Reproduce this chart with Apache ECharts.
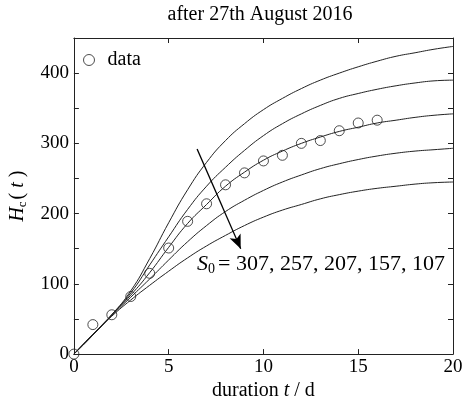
<!DOCTYPE html>
<html>
<head>
<meta charset="utf-8">
<script src="https://cdn.jsdelivr.net/npm/echarts@6/dist/echarts.min.js"></script>
<style>
html,body{margin:0;padding:0;background:#fff;}
#pic0{width:467px;height:406px;}
</style>
</head>
<body>
<div id="pic0"></div>
<script>
// 时间 t (天)
var days = [0,1,2,3,4,5,6,7,8,9,10,11,12,13,14,15,16,17,18,19,20];
// 五条模型曲线, S0 = 307, 257, 207, 157, 107
var s0List = [307, 257, 207, 157, 107];
var curve307 = [0,27,56,90,136,187,234,273,304,328,348,364,378,390,400,409,417,424,429,434,438];
var curve257 = [0,27,56,87,127,167,206,239,266,290,311,328,342,354,364,371,377,382,386,389,390];
var curve207 = [0,28,56,84,116,152,186,213,239,259,276,289,300,309,317,323,329,333,337,340,342];
var curve157 = [0,28,55,81,107,134,160,183,203,219,233,245,255,264,271,277,282,286,289,291,293];
var curve107 = [0,28,54,77,98,118,137,154,169,183,195,205,213,221,227,232,236,239,242,244,245];
// 观测数据
var dataDays = [0,1,2,3,4,5,6,7,8,9,10,11,12,13,14,15,16];
var dataHc = [0,42,56,82,115,151,189,214,241,258,275,283,300,304,318,329,333];
// 坐标轴刻度
var xTicks = [0,5,10,15,20];
var yTicks = [0,100,200,300,400];

var curves = [curve307, curve257, curve207, curve157, curve107];
var serif = 'Liberation Serif';

function pairs(xs, ys){
    var out = [];
    for (var i = 0; i < ys.length; i++) out.push([xs[i], ys[i]]);
    return out;
}
function lineOf(){ return {show: true, onZero: false, lineStyle: {color: '#222', width: 1}}; }
function tickOf(){ return {show: true, inside: true, length: 5, lineStyle: {color: '#222', width: 1}}; }

var myChart = echarts.init(document.getElementById('pic0'));

var series = [];
for (var k = 0; k < curves.length; k++) {
    series.push({
        name: 'S0=' + s0List[k],
        type: 'line',
        smooth: true,
        showSymbol: false,
        silent: true,
        lineStyle: {color: '#222', width: 1},
        data: pairs(days, curves[k])
    });
}
// 箭头
series.push({
    type: 'line',
    data: [],
    silent: true,
    markLine: {
        silent: true,
        symbol: ['none', 'arrow'],
        symbolSize: [9, 14],
        label: {show: false},
        lineStyle: {color: '#000', width: 1.3, type: 'solid'},
        data: [[{coord: [6.5, 292]}, {coord: [8.8, 150]}]]
    }
});
series.push({
    name: 'data',
    type: 'scatter',
    symbol: 'circle',
    symbolSize: 10,
    itemStyle: {color: 'rgba(255,255,255,0)', borderColor: '#222', borderWidth: 1},
    z: 5,
    data: pairs(dataDays, dataHc)
});

option = {
    animation: false,
    backgroundColor: '#fff',
    textStyle: {fontFamily: serif},
    title: {
        text: 'after 27th August 2016',
        left: 255,
        textAlign: 'center',
        top: 0,
        textStyle: {fontFamily: serif, fontSize: 20, fontWeight: 'normal', color: '#000'}
    },
    legend: {
        data: ['data'],
        left: 78,
        top: 45,
        itemWidth: 11,
        itemHeight: 11,
        itemGap: 5,
        itemStyle: {color: 'rgba(255,255,255,0)', borderColor: '#222', borderWidth: 1},
        textStyle: {fontFamily: serif, fontSize: 20, color: '#000', padding: [0, 0, 0, 8]}
    },
    grid: {left: 68, right: 14, top: 38, bottom: 45},
    xAxis: [{
        type: 'value', min: 0, max: 20, interval: 5,
        name: '{n|duration }{i|t}{n| / d}',
        nameLocation: 'middle',
        nameGap: 24,
        nameTextStyle: {
            verticalAlign: 'top',
            rich: {
                n: {fontFamily: serif, fontSize: 20, color: '#000'},
                i: {fontFamily: serif, fontSize: 20, fontStyle: 'italic', color: '#000'}
            }
        },
        axisLine: lineOf(),
        axisTick: tickOf(),
        splitLine: {show: false},
        axisLabel: {
            margin: 3, fontFamily: serif, fontSize: 19, color: '#000',
            formatter: function(v){ return xTicks.indexOf(v) >= 0 ? String(v) : ''; }
        }
    }, {
        type: 'value', min: 0, max: 20, interval: 5, position: 'top',
        axisLine: lineOf(),
        axisTick: tickOf(),
        splitLine: {show: false},
        axisLabel: {show: false}
    }],
    yAxis: [{
        type: 'value', min: 0, max: 450, interval: 50,
        name: '{i|H}{s|c}{n|( }{i|t}{n| )}',
        nameLocation: 'middle',
        nameGap: 34,
        nameRotate: 90,
        nameTextStyle: {
            rich: {
                n: {fontFamily: serif, fontSize: 20, color: '#000'},
                i: {fontFamily: serif, fontSize: 20, fontStyle: 'italic', color: '#000'},
                s: {fontFamily: serif, fontSize: 13, color: '#000', verticalAlign: 'bottom', padding: [10, 2, 0, 0]}
            }
        },
        axisLine: lineOf(),
        axisTick: tickOf(),
        splitLine: {show: false},
        axisLabel: {
            margin: 5, fontFamily: serif, fontSize: 19, color: '#000',
            formatter: function(v){ return yTicks.indexOf(v) >= 0 ? String(v) : ''; }
        }
    }, {
        type: 'value', min: 0, max: 450, interval: 50, position: 'right',
        axisLine: lineOf(),
        axisTick: tickOf(),
        splitLine: {show: false},
        axisLabel: {show: false}
    }],
    graphic: [{
        type: 'text',
        left: 197,
        top: 253,
        style: {
            text: '{i|S}{s|0}{n|= 307, 257, 207, 157, 107}',
            rich: {
                n: {fontFamily: serif, fontSize: 22, fill: '#000'},
                i: {fontFamily: serif, fontSize: 22, fontStyle: 'italic', fill: '#000'},
                s: {fontFamily: serif, fontSize: 14, fill: '#000', verticalAlign: 'bottom', padding: [11, 3, 0, 0]}
            }
        }
    }],
    series: series
};

myChart.setOption(option);
</script>
</body>
</html>
